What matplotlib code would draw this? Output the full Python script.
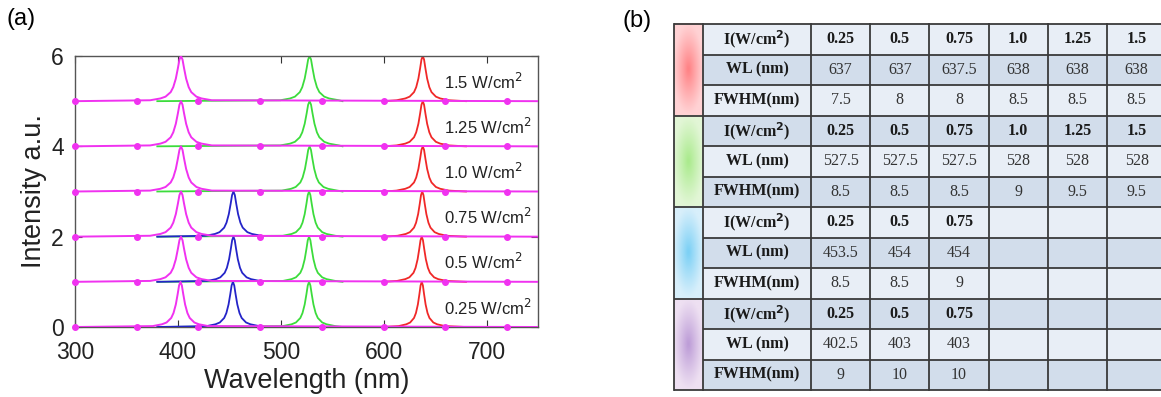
import numpy as np
import matplotlib
matplotlib.use("Agg")
import matplotlib.pyplot as plt
from matplotlib.patches import Rectangle

# ---------------- data ----------------
power_labels = ["0.25", "0.5", "0.75", "1.0", "1.25", "1.5"]
row_texts = ["0.25 W/cm$^2$", "0.5 W/cm$^2$", "0.75 W/cm$^2$",
             "1.0 W/cm$^2$", "1.25 W/cm$^2$", "1.5 W/cm$^2$"]

red_wl = [637, 637, 637.5, 638, 638, 638]
red_fwhm = [7.5, 8, 8, 8.5, 8.5, 8.5]
green_wl = [527.5, 527.5, 527.5, 528, 528, 528]
green_fwhm = [8.5, 8.5, 8.5, 9, 9.5, 9.5]
blue_wl = [453.5, 454, 454]
blue_fwhm = [8.5, 8.5, 9]
violet_wl = [402.5, 403, 403]
violet_fwhm = [9, 10, 10]

# violet peak as drawn in panel (a) (all six spectra show it)
plot_violet_wl = [402.5, 403, 403, 403, 403, 403]
plot_violet_fwhm = [9, 10, 10, 10, 10, 10]

profile_offset = [-3.0, -2.0, -1.5, -1.0, -0.75, -0.5, -0.3, -0.15, 0.0,
                  0.15, 0.3, 0.5, 0.75, 1.0, 1.5, 2.0, 3.0]
profile_height = [0.02, 0.06, 0.10, 0.20, 0.31, 0.50, 0.73, 0.92, 1.0,
                  0.92, 0.73, 0.50, 0.31, 0.20, 0.10, 0.06, 0.02]

marker_x = [300, 360, 420, 480, 540, 600, 660, 720]

# table content
table_groups = [
    dict(I=power_labels, WL=["637", "637", "637.5", "638", "638", "638"],
         FW=["7.5", "8", "8", "8.5", "8.5", "8.5"]),
    dict(I=power_labels, WL=["527.5", "527.5", "527.5", "528", "528", "528"],
         FW=["8.5", "8.5", "8.5", "9", "9.5", "9.5"]),
    dict(I=["0.25", "0.5", "0.75"], WL=["453.5", "454", "454"],
         FW=["8.5", "8.5", "9"]),
    dict(I=["0.25", "0.5", "0.75"], WL=["402.5", "403", "403"],
         FW=["9", "10", "10"]),
]
row_headers = ["I(W/cm$^\\mathbf{2}$)", "WL (nm)", "FWHM(nm)"]
strip_center = ["#ff7f82", "#a8ea8a", "#78cff5", "#bb9ad6"]
strip_edge = ["#ffd2d4", "#e2f6d6", "#d8effb", "#eee0f2"]

# ---------------- figure ----------------
W, H, DPI = 1161, 397, 100
fig = plt.figure(figsize=(W / DPI, H / DPI), dpi=DPI)
sans = ["Liberation Sans", "DejaVu Sans"]
serif = ["Liberation Serif", "DejaVu Serif"]

# panel (a)
axl, axr, axt, axb = 75, 538, 56, 327
ax = fig.add_axes([axl / W, 1 - axb / H, (axr - axl) / W, (axb - axt) / H])

C_MAG = "#f032f0"
C_GRN = "#3cdc3c"
C_BLU = "#2424c8"
C_RED = "#f02828"


def peak_curve(center, fwhm, base, x0, x1):
    xs = [x0] + [center + o * fwhm for o in profile_offset] + [x1]
    ys = [base] + [base + h for h in profile_height] + [base]
    return xs, ys


for i in range(6):
    base = i
    xs, ys = peak_curve(red_wl[i], red_fwhm[i], base, 600, 680)
    ax.plot(xs, ys, color=C_RED, lw=1.3, zorder=2)
    xs, ys = peak_curve(green_wl[i], green_fwhm[i], base, 380, 560)
    ax.plot(xs, ys, color=C_GRN, lw=1.3, zorder=2)
    if i < 3:
        xs, ys = peak_curve(blue_wl[i], blue_fwhm[i], base, 380, 480)
        ax.plot(xs, ys, color=C_BLU, lw=1.3, zorder=3)
    xs, ys = peak_curve(plot_violet_wl[i], plot_violet_fwhm[i], base, 300, 750)
    ax.plot(xs, ys, color=C_MAG, lw=1.4, zorder=4)
    ax.plot(marker_x, [base] * len(marker_x), ls="none", marker="o", ms=4,
            color=C_MAG, zorder=5, clip_on=False)
    ax.text(659, base + 0.43, row_texts[i], fontsize=12, family=sans,
            va="center", ha="left", color="#222222")

ax.set_xlim(300, 750)
ax.set_ylim(0, 6)
ax.set_xticks([300, 400, 500, 600, 700])
ax.set_yticks([0, 2, 4, 6])
ax.tick_params(direction="in", top=True, right=True, length=5, width=0.8,
               labelsize=16.5, colors="#333333")
ax.tick_params(axis="x", pad=10)
ax.tick_params(axis="y", pad=8)
for lab in ax.get_xticklabels() + ax.get_yticklabels():
    lab.set_family(sans)
    lab.set_color("#222222")
for sp in ax.spines.values():
    sp.set_color("#555555")
    sp.set_linewidth(1.0)

fig.text((axl + axr) / 2 / W, 1 - 381 / H, "Wavelength (nm)", fontsize=19.5,
         family=sans, color="#222222", ha="center", va="center")
fig.text(34 / W, 1 - 191 / H, "Intensity a.u.", fontsize=19.5, rotation=90,
         family=sans, color="#222222", ha="center", va="center")

fig.text(7 / W, 1 - 19 / H, "(a)", fontsize=17, family=sans, va="center", ha="left")
fig.text(622 / W, 1 - 21 / H, "(b)", fontsize=17, family=sans, va="center", ha="left")

# panel (b): table drawn in pixel coordinates
tab = fig.add_axes([0, 0, 1, 1])
tab.set_xlim(0, W)
tab.set_ylim(H, 0)
tab.axis("off")

t_left, strip_r, head_r = 674, 703, 811
col_w = 59.2
n_cols = 6
t_top, t_bot = 24, 390
row_h = (t_bot - t_top) / 12
t_right = head_r + col_w * n_cols
LIGHT = "#e8eef6"
DARK = "#d2ddeb"
LINE = "#3a3a3a"

for r in range(12):
    y0 = t_top + r * row_h
    tab.add_patch(Rectangle((strip_r, y0), t_right - strip_r, row_h,
                            facecolor=DARK if r % 2 == 1 else LIGHT,
                            edgecolor="none", zorder=1))

# colour strips with a soft glow
for g in range(4):
    y0 = t_top + g * 3 * row_h
    c0 = np.array(matplotlib.colors.to_rgb(strip_center[g]))
    c1 = np.array(matplotlib.colors.to_rgb(strip_edge[g]))
    yy, xx = np.mgrid[-1:1:60j, -1:1:20j]
    d = np.clip(np.sqrt((xx * 0.9) ** 2 + (yy * 1.0) ** 2), 0, 1)
    w = (1 - d) ** 1.1
    img = c1[None, None, :] * (1 - w[..., None]) + c0[None, None, :] * w[..., None]
    tab.imshow(img, extent=(t_left, strip_r, y0 + 3 * row_h, y0), aspect="auto",
               interpolation="bilinear", zorder=1)

# grid lines
for r in range(13):
    y = t_top + r * row_h
    x0 = t_left if r % 3 == 0 else strip_r
    tab.plot([x0, min(t_right, W)], [y, y], color=LINE, lw=1.3, zorder=3,
             solid_capstyle="butt")
for x in [t_left, strip_r, head_r] + [head_r + col_w * k for k in range(1, n_cols)]:
    tab.plot([x, x], [t_top, t_bot], color=LINE, lw=1.3, zorder=3)

# texts
for g, grp in enumerate(table_groups):
    for k, key in enumerate(["I", "WL", "FW"]):
        r = g * 3 + k
        yc = t_top + (r + 0.5) * row_h
        tab.text((strip_r + head_r) / 2, yc, row_headers[k], fontsize=11.5,
                 family=serif, weight="bold", ha="center", va="center",
                 color="#1a1a1a", zorder=4)
        for c, val in enumerate(grp[key]):
            xc = head_r + (c + 0.5) * col_w
            tab.text(xc, yc, val, fontsize=11.5, family=serif,
                     weight="bold" if key == "I" else "normal",
                     ha="center", va="center",
                     color="#1a1a1a" if key == "I" else "#333333", zorder=4)

fig.savefig("out.png", dpi=DPI)
